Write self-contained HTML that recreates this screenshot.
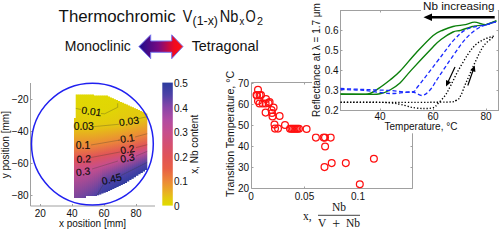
<!DOCTYPE html><html><head><meta charset="utf-8"><style>html,body{margin:0;padding:0;background:#fff;overflow:hidden}svg{display:block}text{font-family:"Liberation Sans",sans-serif}</style></head><body>
<svg width="500" height="229" viewBox="0 0 500 229">
<defs>
<linearGradient id="ag" x1="0" x2="1" y1="0" y2="0"><stop offset="0" stop-color="#1c0c8c"/><stop offset="0.45" stop-color="#7a0a80"/><stop offset="0.8" stop-color="#f00a20"/><stop offset="1" stop-color="#ff1010"/></linearGradient>
<linearGradient id="cb" x1="0" x2="0" y1="1" y2="0"><stop offset="0.000" stop-color="#e0dc00"/><stop offset="0.060" stop-color="#e4c810"/><stop offset="0.100" stop-color="#e8b420"/><stop offset="0.200" stop-color="#ec8838"/><stop offset="0.300" stop-color="#e86046"/><stop offset="0.400" stop-color="#e05458"/><stop offset="0.500" stop-color="#d45072"/><stop offset="0.600" stop-color="#c64e8e"/><stop offset="0.700" stop-color="#b04ca2"/><stop offset="0.800" stop-color="#8846a8"/><stop offset="0.900" stop-color="#4e42a6"/><stop offset="1.000" stop-color="#2b3b9e"/></linearGradient>
</defs>
<text x="58.6" y="21.8" font-size="16" textLength="117" lengthAdjust="spacingAndGlyphs" fill="#111">Thermochromic</text>
<text x="182.8" y="21.8" font-size="16" textLength="9.5" lengthAdjust="spacingAndGlyphs" fill="#111">V</text>
<text x="192.6" y="25.2" font-size="12" textLength="25.4" lengthAdjust="spacingAndGlyphs" fill="#111">(1-x)</text>
<text x="219.8" y="21.8" font-size="16" textLength="18.6" lengthAdjust="spacingAndGlyphs" fill="#111">Nb</text>
<text x="239.6" y="24.8" font-size="11" textLength="4.8" lengthAdjust="spacingAndGlyphs" fill="#111">x</text>
<text x="245.6" y="21.8" font-size="16" textLength="10.2" lengthAdjust="spacingAndGlyphs" fill="#111">O</text>
<text x="257" y="24.8" font-size="11" textLength="6" lengthAdjust="spacingAndGlyphs" fill="#111">2</text>
<text x="64.8" y="50.7" font-size="14" textLength="66" lengthAdjust="spacingAndGlyphs" fill="#111">Monoclinic</text>
<text x="191.7" y="50.7" font-size="14" textLength="67" lengthAdjust="spacingAndGlyphs" fill="#111">Tetragonal</text>
<path d="M138.9 46.6 L150.7 34.8 L150.7 41 L171.7 41 L171.7 34.8 L183 46.6 L171.7 58.7 L171.7 52.3 L150.7 52.3 L150.7 58.7 Z" fill="url(#ag)" stroke="#7878f0" stroke-width="1"/>
<path d="M30.5 83 V206 H155" fill="none" stroke="#a0a0a0" stroke-width="1"/>
<text x="28.7" y="103.3" font-size="10" text-anchor="end" fill="#111">−20</text>
<text x="28.7" y="135.29999999999998" font-size="10" text-anchor="end" fill="#111">−40</text>
<text x="28.7" y="167.29999999999998" font-size="10" text-anchor="end" fill="#111">−60</text>
<text x="28.7" y="199.29999999999998" font-size="10" text-anchor="end" fill="#111">−80</text>
<text x="40.2" y="217.2" font-size="10" text-anchor="middle" fill="#111">20</text>
<text x="72" y="217.2" font-size="10" text-anchor="middle" fill="#111">40</text>
<text x="104" y="217.2" font-size="10" text-anchor="middle" fill="#111">60</text>
<text x="136" y="217.2" font-size="10" text-anchor="middle" fill="#111">80</text>
<text x="92.5" y="226.5" font-size="10" text-anchor="middle" fill="#111">x position [mm]</text>
<text transform="translate(8.6,144.7) rotate(-90)" font-size="10" text-anchor="middle" fill="#111">y position [mm]</text>
<clipPath id="cr"><path d="M74.0 198.0 L74.0 118.0 L75.7 118.0 L75.7 94.4 L94.0 94.4 L94.0 95.6 L106.0 95.6 L108.0 95.6 L108.0 96.5 L110.0 96.5 L110.0 97.4 L112.0 97.4 L112.0 98.3 L114.0 98.3 L114.0 99.2 L116.0 99.2 L116.0 100.1 L118.0 100.1 L118.0 101.0 L120.0 101.0 L120.0 101.9 L122.0 101.9 L122.0 102.8 L124.0 102.8 L124.0 103.7 L126.0 103.7 L126.0 104.6 L128.0 104.6 L128.0 105.5 L130.0 105.5 L130.0 106.4 L132.0 106.4 L132.0 107.3 L134.0 107.3 L134.0 108.2 L136.0 108.2 L136.0 109.1 L138.0 109.1 L138.0 110.0 L140.0 110.0 L140.0 110.9 L142.0 110.9 L142.0 111.8 L144.0 111.8 L144.0 112.7 L146.0 112.7 L146.0 113.6 L147.3 113.6 L147.3 170.0 L145.0 170.0 L145.0 171.4 L142.8 171.4 L142.8 172.9 L140.5 172.9 L140.5 174.3 L138.3 174.3 L138.3 175.8 L136.0 175.8 L136.0 177.2 L133.8 177.2 L133.8 178.7 L131.5 178.7 L131.5 180.1 L129.3 180.1 L129.3 181.6 L127.0 181.6 L127.0 183.0 L124.9 183.0 L124.9 184.0 L122.8 184.0 L122.8 185.0 L120.7 185.0 L120.7 186.0 L118.6 186.0 L118.6 187.0 L116.4 187.0 L116.4 188.0 L114.3 188.0 L114.3 189.0 L112.2 189.0 L112.2 190.0 L110.1 190.0 L110.1 191.0 L108.0 191.0 L108.0 192.0 L105.8 192.0 L105.8 192.8 L103.6 192.8 L103.6 193.6 L101.4 193.6 L101.4 194.4 L99.2 194.4 L99.2 195.2 L97.0 195.2 L97.0 196.0 L86.0 196.0 L86.0 198.0 Z"/></clipPath>
<defs>
<linearGradient id="s0" gradientUnits="userSpaceOnUse" x1="0" y1="80.0" x2="0" y2="238.8"><stop offset="0.000" stop-color="#e0dc00"/><stop offset="0.177" stop-color="#e1d505"/><stop offset="0.296" stop-color="#e4c810"/><stop offset="0.415" stop-color="#ec8838"/><stop offset="0.500" stop-color="#e05458"/><stop offset="0.585" stop-color="#c64e8e"/><stop offset="0.864" stop-color="#4e42a6"/><stop offset="1.000" stop-color="#2b3b9e"/></linearGradient>
<linearGradient id="s1" gradientUnits="userSpaceOnUse" x1="0" y1="80.0" x2="0" y2="236.4"><stop offset="0.000" stop-color="#e0dc00"/><stop offset="0.182" stop-color="#e1d505"/><stop offset="0.300" stop-color="#e4c810"/><stop offset="0.421" stop-color="#ec8838"/><stop offset="0.506" stop-color="#e05458"/><stop offset="0.591" stop-color="#c64e8e"/><stop offset="0.866" stop-color="#4e42a6"/><stop offset="1.000" stop-color="#2b3b9e"/></linearGradient>
<linearGradient id="s2" gradientUnits="userSpaceOnUse" x1="0" y1="80.0" x2="0" y2="233.9"><stop offset="0.000" stop-color="#e0dc00"/><stop offset="0.187" stop-color="#e1d505"/><stop offset="0.305" stop-color="#e4c810"/><stop offset="0.427" stop-color="#ec8838"/><stop offset="0.513" stop-color="#e05458"/><stop offset="0.598" stop-color="#c64e8e"/><stop offset="0.869" stop-color="#4e42a6"/><stop offset="1.000" stop-color="#2b3b9e"/></linearGradient>
<linearGradient id="s3" gradientUnits="userSpaceOnUse" x1="0" y1="80.0" x2="0" y2="231.5"><stop offset="0.000" stop-color="#e0dc00"/><stop offset="0.192" stop-color="#e1d505"/><stop offset="0.310" stop-color="#e4c810"/><stop offset="0.434" stop-color="#ec8838"/><stop offset="0.520" stop-color="#e05458"/><stop offset="0.605" stop-color="#c64e8e"/><stop offset="0.871" stop-color="#4e42a6"/><stop offset="1.000" stop-color="#2b3b9e"/></linearGradient>
<linearGradient id="s4" gradientUnits="userSpaceOnUse" x1="0" y1="80.0" x2="0" y2="229.1"><stop offset="0.000" stop-color="#e0dc00"/><stop offset="0.197" stop-color="#e1d505"/><stop offset="0.315" stop-color="#e4c810"/><stop offset="0.440" stop-color="#ec8838"/><stop offset="0.526" stop-color="#e05458"/><stop offset="0.613" stop-color="#c64e8e"/><stop offset="0.874" stop-color="#4e42a6"/><stop offset="1.000" stop-color="#2b3b9e"/></linearGradient>
<linearGradient id="s5" gradientUnits="userSpaceOnUse" x1="0" y1="80.0" x2="0" y2="226.6"><stop offset="0.000" stop-color="#e0dc00"/><stop offset="0.202" stop-color="#e1d505"/><stop offset="0.320" stop-color="#e4c810"/><stop offset="0.447" stop-color="#ec8838"/><stop offset="0.534" stop-color="#e05458"/><stop offset="0.621" stop-color="#c64e8e"/><stop offset="0.877" stop-color="#4e42a6"/><stop offset="1.000" stop-color="#2b3b9e"/></linearGradient>
<linearGradient id="s6" gradientUnits="userSpaceOnUse" x1="0" y1="80.0" x2="0" y2="224.2"><stop offset="0.000" stop-color="#e0dc00"/><stop offset="0.208" stop-color="#e1d505"/><stop offset="0.325" stop-color="#e4c810"/><stop offset="0.454" stop-color="#ec8838"/><stop offset="0.541" stop-color="#e05458"/><stop offset="0.628" stop-color="#c64e8e"/><stop offset="0.880" stop-color="#4e42a6"/><stop offset="1.000" stop-color="#2b3b9e"/></linearGradient>
<linearGradient id="s7" gradientUnits="userSpaceOnUse" x1="0" y1="80.0" x2="0" y2="221.8"><stop offset="0.000" stop-color="#e0dc00"/><stop offset="0.213" stop-color="#e1d505"/><stop offset="0.330" stop-color="#e4c810"/><stop offset="0.461" stop-color="#ec8838"/><stop offset="0.549" stop-color="#e05458"/><stop offset="0.637" stop-color="#c64e8e"/><stop offset="0.883" stop-color="#4e42a6"/><stop offset="1.000" stop-color="#2b3b9e"/></linearGradient>
<linearGradient id="s8" gradientUnits="userSpaceOnUse" x1="0" y1="80.0" x2="0" y2="219.4"><stop offset="0.000" stop-color="#e0dc00"/><stop offset="0.219" stop-color="#e1d505"/><stop offset="0.336" stop-color="#e4c810"/><stop offset="0.469" stop-color="#ec8838"/><stop offset="0.557" stop-color="#e05458"/><stop offset="0.645" stop-color="#c64e8e"/><stop offset="0.886" stop-color="#4e42a6"/><stop offset="1.000" stop-color="#2b3b9e"/></linearGradient>
<linearGradient id="s9" gradientUnits="userSpaceOnUse" x1="0" y1="80.0" x2="0" y2="216.9"><stop offset="0.000" stop-color="#e0dc00"/><stop offset="0.225" stop-color="#e1d505"/><stop offset="0.342" stop-color="#e4c810"/><stop offset="0.476" stop-color="#ec8838"/><stop offset="0.565" stop-color="#e05458"/><stop offset="0.654" stop-color="#c64e8e"/><stop offset="0.889" stop-color="#4e42a6"/><stop offset="1.000" stop-color="#2b3b9e"/></linearGradient>
<linearGradient id="s10" gradientUnits="userSpaceOnUse" x1="0" y1="80.0" x2="0" y2="214.5"><stop offset="0.000" stop-color="#e0dc00"/><stop offset="0.232" stop-color="#e1d505"/><stop offset="0.348" stop-color="#e4c810"/><stop offset="0.484" stop-color="#ec8838"/><stop offset="0.573" stop-color="#e05458"/><stop offset="0.663" stop-color="#c64e8e"/><stop offset="0.892" stop-color="#4e42a6"/><stop offset="1.000" stop-color="#2b3b9e"/></linearGradient>
<linearGradient id="s11" gradientUnits="userSpaceOnUse" x1="0" y1="80.0" x2="0" y2="212.1"><stop offset="0.000" stop-color="#e0dc00"/><stop offset="0.239" stop-color="#e1d505"/><stop offset="0.354" stop-color="#e4c810"/><stop offset="0.493" stop-color="#ec8838"/><stop offset="0.582" stop-color="#e05458"/><stop offset="0.672" stop-color="#c64e8e"/><stop offset="0.896" stop-color="#4e42a6"/><stop offset="1.000" stop-color="#2b3b9e"/></linearGradient>
<linearGradient id="s12" gradientUnits="userSpaceOnUse" x1="0" y1="80.0" x2="0" y2="209.6"><stop offset="0.000" stop-color="#e0dc00"/><stop offset="0.246" stop-color="#e1d505"/><stop offset="0.360" stop-color="#e4c810"/><stop offset="0.501" stop-color="#ec8838"/><stop offset="0.590" stop-color="#e05458"/><stop offset="0.679" stop-color="#c64e8e"/><stop offset="0.899" stop-color="#4e42a6"/><stop offset="1.000" stop-color="#2b3b9e"/></linearGradient>
<linearGradient id="s13" gradientUnits="userSpaceOnUse" x1="0" y1="80.0" x2="0" y2="207.2"><stop offset="0.000" stop-color="#e0dc00"/><stop offset="0.254" stop-color="#e1d505"/><stop offset="0.365" stop-color="#e4c810"/><stop offset="0.508" stop-color="#ec8838"/><stop offset="0.598" stop-color="#e05458"/><stop offset="0.688" stop-color="#c64e8e"/><stop offset="0.903" stop-color="#4e42a6"/><stop offset="1.000" stop-color="#2b3b9e"/></linearGradient>
<linearGradient id="s14" gradientUnits="userSpaceOnUse" x1="0" y1="80.0" x2="0" y2="205.2"><stop offset="0.000" stop-color="#e0dc00"/><stop offset="0.261" stop-color="#e1d505"/><stop offset="0.369" stop-color="#e4c810"/><stop offset="0.513" stop-color="#ec8838"/><stop offset="0.605" stop-color="#e05458"/><stop offset="0.694" stop-color="#c64e8e"/><stop offset="0.895" stop-color="#4e42a6"/><stop offset="1.000" stop-color="#2b3b9e"/></linearGradient>
<linearGradient id="s15" gradientUnits="userSpaceOnUse" x1="0" y1="80.0" x2="0" y2="203.5"><stop offset="0.000" stop-color="#e0dc00"/><stop offset="0.268" stop-color="#e1d505"/><stop offset="0.373" stop-color="#e4c810"/><stop offset="0.516" stop-color="#ec8838"/><stop offset="0.610" stop-color="#e05458"/><stop offset="0.698" stop-color="#c64e8e"/><stop offset="0.874" stop-color="#4e42a6"/><stop offset="1.000" stop-color="#2b3b9e"/></linearGradient>
<linearGradient id="s16" gradientUnits="userSpaceOnUse" x1="0" y1="80.0" x2="0" y2="201.9"><stop offset="0.000" stop-color="#e0dc00"/><stop offset="0.275" stop-color="#e1d505"/><stop offset="0.376" stop-color="#e4c810"/><stop offset="0.520" stop-color="#ec8838"/><stop offset="0.616" stop-color="#e05458"/><stop offset="0.702" stop-color="#c64e8e"/><stop offset="0.853" stop-color="#4e42a6"/><stop offset="1.000" stop-color="#2b3b9e"/></linearGradient>
<linearGradient id="s17" gradientUnits="userSpaceOnUse" x1="0" y1="80.0" x2="0" y2="200.3"><stop offset="0.000" stop-color="#e0dc00"/><stop offset="0.280" stop-color="#e1d505"/><stop offset="0.379" stop-color="#e4c810"/><stop offset="0.524" stop-color="#ec8838"/><stop offset="0.621" stop-color="#e05458"/><stop offset="0.707" stop-color="#c64e8e"/><stop offset="0.857" stop-color="#4e42a6"/><stop offset="1.000" stop-color="#2b3b9e"/></linearGradient>
<linearGradient id="s18" gradientUnits="userSpaceOnUse" x1="0" y1="80.0" x2="0" y2="198.6"><stop offset="0.000" stop-color="#e0dc00"/><stop offset="0.275" stop-color="#e1d505"/><stop offset="0.383" stop-color="#e4c810"/><stop offset="0.528" stop-color="#ec8838"/><stop offset="0.626" stop-color="#e05458"/><stop offset="0.711" stop-color="#c64e8e"/><stop offset="0.861" stop-color="#4e42a6"/><stop offset="1.000" stop-color="#2b3b9e"/></linearGradient>
<linearGradient id="s19" gradientUnits="userSpaceOnUse" x1="0" y1="80.0" x2="0" y2="197.0"><stop offset="0.000" stop-color="#e0dc00"/><stop offset="0.271" stop-color="#e1d505"/><stop offset="0.387" stop-color="#e4c810"/><stop offset="0.532" stop-color="#ec8838"/><stop offset="0.632" stop-color="#e05458"/><stop offset="0.716" stop-color="#c64e8e"/><stop offset="0.865" stop-color="#4e42a6"/><stop offset="1.000" stop-color="#2b3b9e"/></linearGradient>
<linearGradient id="s20" gradientUnits="userSpaceOnUse" x1="0" y1="80.0" x2="0" y2="195.4"><stop offset="0.000" stop-color="#e0dc00"/><stop offset="0.266" stop-color="#e1d505"/><stop offset="0.390" stop-color="#e4c810"/><stop offset="0.536" stop-color="#ec8838"/><stop offset="0.638" stop-color="#e05458"/><stop offset="0.721" stop-color="#c64e8e"/><stop offset="0.869" stop-color="#4e42a6"/><stop offset="1.000" stop-color="#2b3b9e"/></linearGradient>
<linearGradient id="s21" gradientUnits="userSpaceOnUse" x1="0" y1="80.0" x2="0" y2="193.7"><stop offset="0.000" stop-color="#e0dc00"/><stop offset="0.261" stop-color="#e1d505"/><stop offset="0.394" stop-color="#e4c810"/><stop offset="0.540" stop-color="#ec8838"/><stop offset="0.644" stop-color="#e05458"/><stop offset="0.726" stop-color="#c64e8e"/><stop offset="0.873" stop-color="#4e42a6"/><stop offset="1.000" stop-color="#2b3b9e"/></linearGradient>
<linearGradient id="s22" gradientUnits="userSpaceOnUse" x1="0" y1="80.0" x2="0" y2="192.1"><stop offset="0.000" stop-color="#e0dc00"/><stop offset="0.256" stop-color="#e1d505"/><stop offset="0.398" stop-color="#e4c810"/><stop offset="0.544" stop-color="#ec8838"/><stop offset="0.650" stop-color="#e05458"/><stop offset="0.731" stop-color="#c64e8e"/><stop offset="0.877" stop-color="#4e42a6"/><stop offset="1.000" stop-color="#2b3b9e"/></linearGradient>
<linearGradient id="s23" gradientUnits="userSpaceOnUse" x1="0" y1="80.0" x2="0" y2="190.5"><stop offset="0.000" stop-color="#e0dc00"/><stop offset="0.250" stop-color="#e1d505"/><stop offset="0.402" stop-color="#e4c810"/><stop offset="0.549" stop-color="#ec8838"/><stop offset="0.657" stop-color="#e05458"/><stop offset="0.736" stop-color="#c64e8e"/><stop offset="0.882" stop-color="#4e42a6"/><stop offset="1.000" stop-color="#2b3b9e"/></linearGradient>
<linearGradient id="s24" gradientUnits="userSpaceOnUse" x1="0" y1="80.0" x2="0" y2="188.8"><stop offset="0.000" stop-color="#e0dc00"/><stop offset="0.213" stop-color="#e1d505"/><stop offset="0.406" stop-color="#e4c810"/><stop offset="0.553" stop-color="#ec8838"/><stop offset="0.663" stop-color="#e05458"/><stop offset="0.741" stop-color="#c64e8e"/><stop offset="0.887" stop-color="#4e42a6"/><stop offset="1.000" stop-color="#2b3b9e"/></linearGradient>
<linearGradient id="s25" gradientUnits="userSpaceOnUse" x1="0" y1="80.0" x2="0" y2="187.4"><stop offset="0.000" stop-color="#e0dc00"/><stop offset="0.182" stop-color="#e1d505"/><stop offset="0.404" stop-color="#e4c810"/><stop offset="0.556" stop-color="#ec8838"/><stop offset="0.668" stop-color="#e05458"/><stop offset="0.745" stop-color="#c64e8e"/><stop offset="0.889" stop-color="#4e42a6"/><stop offset="1.000" stop-color="#2b3b9e"/></linearGradient>
<linearGradient id="s26" gradientUnits="userSpaceOnUse" x1="0" y1="80.0" x2="0" y2="186.2"><stop offset="0.000" stop-color="#e0dc00"/><stop offset="0.177" stop-color="#e1d505"/><stop offset="0.402" stop-color="#e4c810"/><stop offset="0.558" stop-color="#ec8838"/><stop offset="0.670" stop-color="#e05458"/><stop offset="0.747" stop-color="#c64e8e"/><stop offset="0.890" stop-color="#4e42a6"/><stop offset="1.000" stop-color="#2b3b9e"/></linearGradient>
<linearGradient id="s27" gradientUnits="userSpaceOnUse" x1="0" y1="80.0" x2="0" y2="185.0"><stop offset="0.000" stop-color="#e0dc00"/><stop offset="0.171" stop-color="#e1d505"/><stop offset="0.400" stop-color="#e4c810"/><stop offset="0.560" stop-color="#ec8838"/><stop offset="0.673" stop-color="#e05458"/><stop offset="0.749" stop-color="#c64e8e"/><stop offset="0.891" stop-color="#4e42a6"/><stop offset="1.000" stop-color="#2b3b9e"/></linearGradient>
<linearGradient id="s28" gradientUnits="userSpaceOnUse" x1="0" y1="80.0" x2="0" y2="183.8"><stop offset="0.000" stop-color="#e0dc00"/><stop offset="0.166" stop-color="#e1d505"/><stop offset="0.398" stop-color="#e4c810"/><stop offset="0.562" stop-color="#ec8838"/><stop offset="0.676" stop-color="#e05458"/><stop offset="0.751" stop-color="#c64e8e"/><stop offset="0.892" stop-color="#4e42a6"/><stop offset="1.000" stop-color="#2b3b9e"/></linearGradient>
<linearGradient id="s29" gradientUnits="userSpaceOnUse" x1="0" y1="80.0" x2="0" y2="182.6"><stop offset="0.000" stop-color="#e0dc00"/><stop offset="0.160" stop-color="#e1d505"/><stop offset="0.398" stop-color="#e4c810"/><stop offset="0.564" stop-color="#ec8838"/><stop offset="0.678" stop-color="#e05458"/><stop offset="0.753" stop-color="#c64e8e"/><stop offset="0.893" stop-color="#4e42a6"/><stop offset="1.000" stop-color="#2b3b9e"/></linearGradient>
<linearGradient id="s30" gradientUnits="userSpaceOnUse" x1="0" y1="80.0" x2="0" y2="181.4"><stop offset="0.000" stop-color="#e0dc00"/><stop offset="0.154" stop-color="#e1d505"/><stop offset="0.398" stop-color="#e4c810"/><stop offset="0.566" stop-color="#ec8838"/><stop offset="0.681" stop-color="#e05458"/><stop offset="0.755" stop-color="#c64e8e"/><stop offset="0.894" stop-color="#4e42a6"/><stop offset="1.000" stop-color="#2b3b9e"/></linearGradient>
<linearGradient id="s31" gradientUnits="userSpaceOnUse" x1="0" y1="80.0" x2="0" y2="180.2"><stop offset="0.000" stop-color="#e0dc00"/><stop offset="0.148" stop-color="#e1d505"/><stop offset="0.399" stop-color="#e4c810"/><stop offset="0.569" stop-color="#ec8838"/><stop offset="0.684" stop-color="#e05458"/><stop offset="0.757" stop-color="#c64e8e"/><stop offset="0.895" stop-color="#4e42a6"/><stop offset="1.000" stop-color="#2b3b9e"/></linearGradient>
<linearGradient id="s32" gradientUnits="userSpaceOnUse" x1="0" y1="80.0" x2="0" y2="179.0"><stop offset="0.000" stop-color="#e0dc00"/><stop offset="0.141" stop-color="#e1d505"/><stop offset="0.400" stop-color="#e4c810"/><stop offset="0.571" stop-color="#ec8838"/><stop offset="0.687" stop-color="#e05458"/><stop offset="0.759" stop-color="#c64e8e"/><stop offset="0.896" stop-color="#4e42a6"/><stop offset="1.000" stop-color="#2b3b9e"/></linearGradient>
<linearGradient id="s33" gradientUnits="userSpaceOnUse" x1="0" y1="80.0" x2="0" y2="177.8"><stop offset="0.000" stop-color="#e0dc00"/><stop offset="0.135" stop-color="#e1d505"/><stop offset="0.400" stop-color="#e4c810"/><stop offset="0.573" stop-color="#ec8838"/><stop offset="0.690" stop-color="#e05458"/><stop offset="0.761" stop-color="#c64e8e"/><stop offset="0.898" stop-color="#4e42a6"/><stop offset="1.000" stop-color="#2b3b9e"/></linearGradient>
<linearGradient id="s34" gradientUnits="userSpaceOnUse" x1="0" y1="80.0" x2="0" y2="176.6"><stop offset="0.000" stop-color="#e0dc00"/><stop offset="0.128" stop-color="#e1d505"/><stop offset="0.401" stop-color="#e4c810"/><stop offset="0.575" stop-color="#ec8838"/><stop offset="0.693" stop-color="#e05458"/><stop offset="0.764" stop-color="#c64e8e"/><stop offset="0.899" stop-color="#4e42a6"/><stop offset="1.000" stop-color="#2b3b9e"/></linearGradient>
<linearGradient id="s35" gradientUnits="userSpaceOnUse" x1="0" y1="80.0" x2="0" y2="175.4"><stop offset="0.000" stop-color="#e0dc00"/><stop offset="0.122" stop-color="#e1d505"/><stop offset="0.402" stop-color="#e4c810"/><stop offset="0.578" stop-color="#ec8838"/><stop offset="0.696" stop-color="#e05458"/><stop offset="0.766" stop-color="#c64e8e"/><stop offset="0.900" stop-color="#4e42a6"/><stop offset="1.000" stop-color="#2b3b9e"/></linearGradient>
<linearGradient id="s36" gradientUnits="userSpaceOnUse" x1="0" y1="80.0" x2="0" y2="174.2"><stop offset="0.000" stop-color="#e0dc00"/><stop offset="0.115" stop-color="#e1d505"/><stop offset="0.403" stop-color="#e4c810"/><stop offset="0.580" stop-color="#ec8838"/><stop offset="0.699" stop-color="#e05458"/><stop offset="0.769" stop-color="#c64e8e"/><stop offset="0.901" stop-color="#4e42a6"/><stop offset="1.000" stop-color="#2b3b9e"/></linearGradient>
<linearGradient id="s37" gradientUnits="userSpaceOnUse" x1="0" y1="80.0" x2="0" y2="173.0"><stop offset="0.000" stop-color="#e0dc00"/><stop offset="0.108" stop-color="#e1d505"/><stop offset="0.403" stop-color="#e4c810"/><stop offset="0.582" stop-color="#ec8838"/><stop offset="0.703" stop-color="#e05458"/><stop offset="0.771" stop-color="#c64e8e"/><stop offset="0.902" stop-color="#4e42a6"/><stop offset="1.000" stop-color="#2b3b9e"/></linearGradient>
<linearGradient id="s38" gradientUnits="userSpaceOnUse" x1="0" y1="80.0" x2="0" y2="171.8"><stop offset="0.000" stop-color="#e0dc00"/><stop offset="0.100" stop-color="#e1d505"/><stop offset="0.404" stop-color="#e4c810"/><stop offset="0.585" stop-color="#ec8838"/><stop offset="0.706" stop-color="#e05458"/><stop offset="0.774" stop-color="#c64e8e"/><stop offset="0.904" stop-color="#4e42a6"/><stop offset="1.000" stop-color="#2b3b9e"/></linearGradient>
<linearGradient id="s39" gradientUnits="userSpaceOnUse" x1="0" y1="80.0" x2="0" y2="170.6"><stop offset="0.000" stop-color="#e0dc00"/><stop offset="0.093" stop-color="#e1d505"/><stop offset="0.405" stop-color="#e4c810"/><stop offset="0.588" stop-color="#ec8838"/><stop offset="0.709" stop-color="#e05458"/><stop offset="0.776" stop-color="#c64e8e"/><stop offset="0.905" stop-color="#4e42a6"/><stop offset="1.000" stop-color="#2b3b9e"/></linearGradient>
</defs><g clip-path="url(#cr)">
<rect x="70" y="90" width="2.3" height="112" fill="url(#s0)"/>
<rect x="72" y="90" width="2.3" height="112" fill="url(#s1)"/>
<rect x="74" y="90" width="2.3" height="112" fill="url(#s2)"/>
<rect x="76" y="90" width="2.3" height="112" fill="url(#s3)"/>
<rect x="78" y="90" width="2.3" height="112" fill="url(#s4)"/>
<rect x="80" y="90" width="2.3" height="112" fill="url(#s5)"/>
<rect x="82" y="90" width="2.3" height="112" fill="url(#s6)"/>
<rect x="84" y="90" width="2.3" height="112" fill="url(#s7)"/>
<rect x="86" y="90" width="2.3" height="112" fill="url(#s8)"/>
<rect x="88" y="90" width="2.3" height="112" fill="url(#s9)"/>
<rect x="90" y="90" width="2.3" height="112" fill="url(#s10)"/>
<rect x="92" y="90" width="2.3" height="112" fill="url(#s11)"/>
<rect x="94" y="90" width="2.3" height="112" fill="url(#s12)"/>
<rect x="96" y="90" width="2.3" height="112" fill="url(#s13)"/>
<rect x="98" y="90" width="2.3" height="112" fill="url(#s14)"/>
<rect x="100" y="90" width="2.3" height="112" fill="url(#s15)"/>
<rect x="102" y="90" width="2.3" height="112" fill="url(#s16)"/>
<rect x="104" y="90" width="2.3" height="112" fill="url(#s17)"/>
<rect x="106" y="90" width="2.3" height="112" fill="url(#s18)"/>
<rect x="108" y="90" width="2.3" height="112" fill="url(#s19)"/>
<rect x="110" y="90" width="2.3" height="112" fill="url(#s20)"/>
<rect x="112" y="90" width="2.3" height="112" fill="url(#s21)"/>
<rect x="114" y="90" width="2.3" height="112" fill="url(#s22)"/>
<rect x="116" y="90" width="2.3" height="112" fill="url(#s23)"/>
<rect x="118" y="90" width="2.3" height="112" fill="url(#s24)"/>
<rect x="120" y="90" width="2.3" height="112" fill="url(#s25)"/>
<rect x="122" y="90" width="2.3" height="112" fill="url(#s26)"/>
<rect x="124" y="90" width="2.3" height="112" fill="url(#s27)"/>
<rect x="126" y="90" width="2.3" height="112" fill="url(#s28)"/>
<rect x="128" y="90" width="2.3" height="112" fill="url(#s29)"/>
<rect x="130" y="90" width="2.3" height="112" fill="url(#s30)"/>
<rect x="132" y="90" width="2.3" height="112" fill="url(#s31)"/>
<rect x="134" y="90" width="2.3" height="112" fill="url(#s32)"/>
<rect x="136" y="90" width="2.3" height="112" fill="url(#s33)"/>
<rect x="138" y="90" width="2.3" height="112" fill="url(#s34)"/>
<rect x="140" y="90" width="2.3" height="112" fill="url(#s35)"/>
<rect x="142" y="90" width="2.3" height="112" fill="url(#s36)"/>
<rect x="144" y="90" width="2.3" height="112" fill="url(#s37)"/>
<rect x="146" y="90" width="2.3" height="112" fill="url(#s38)"/>
<rect x="148" y="90" width="2.3" height="112" fill="url(#s39)"/>
<path d="M75.0 108.2 L81.0 109.5" fill="none" stroke="#3a3a2a" stroke-opacity="0.5" stroke-width="0.6"/>
<path d="M101.0 113.5 L104.7 113.8 L117.7 107.3 L117.7 103.3" fill="none" stroke="#3a3a2a" stroke-opacity="0.5" stroke-width="0.6"/>
<path d="M93.0 126.7 L118.5 124.3 L119.0 124.2" fill="none" stroke="#3a3a2a" stroke-opacity="0.5" stroke-width="0.6"/>
<path d="M137.0 119.0 L148.0 116.5" fill="none" stroke="#3a3a2a" stroke-opacity="0.5" stroke-width="0.6"/>
<path d="M91.0 145.0 L120.0 140.0 L118.0 140.3" fill="none" stroke="#3a3a2a" stroke-opacity="0.5" stroke-width="0.6"/>
<path d="M135.0 137.0 L148.0 133.5" fill="none" stroke="#3a3a2a" stroke-opacity="0.5" stroke-width="0.6"/>
<path d="M91.0 157.5 L120.0 152.0" fill="none" stroke="#3a3a2a" stroke-opacity="0.5" stroke-width="0.6"/>
<path d="M136.0 147.6 L148.0 144.5" fill="none" stroke="#3a3a2a" stroke-opacity="0.5" stroke-width="0.6"/>
<path d="M92.0 169.0 L118.0 161.0" fill="none" stroke="#3a3a2a" stroke-opacity="0.5" stroke-width="0.6"/>
<path d="M136.0 156.0 L148.0 151.0" fill="none" stroke="#3a3a2a" stroke-opacity="0.5" stroke-width="0.6"/>
<path d="M97.0 195.0 L103.0 185.0" fill="none" stroke="#3a3a2a" stroke-opacity="0.5" stroke-width="0.6"/>
<path d="M121.0 175.5 L148.0 162.0" fill="none" stroke="#3a3a2a" stroke-opacity="0.5" stroke-width="0.6"/>
</g>
<text transform="translate(91,115.0) rotate(8)" font-size="10.3" text-anchor="middle" stroke="#000" stroke-width="0.15" fill="#111">0.01</text>
<text transform="translate(83.7,130.3) rotate(0)" font-size="10.3" text-anchor="middle" stroke="#000" stroke-width="0.15" fill="#111">0.03</text>
<text transform="translate(129.5,124.89999999999999) rotate(-8)" font-size="10.3" text-anchor="middle" stroke="#000" stroke-width="0.15" fill="#111">0.03</text>
<text transform="translate(83,148.6) rotate(0)" font-size="10.3" text-anchor="middle" stroke="#000" stroke-width="0.15" fill="#111">0.1</text>
<text transform="translate(127.8,141.9) rotate(-8)" font-size="10.3" text-anchor="middle" stroke="#000" stroke-width="0.15" fill="#111">0.1</text>
<text transform="translate(84,162.6) rotate(-3)" font-size="10.3" text-anchor="middle" stroke="#000" stroke-width="0.15" fill="#111">0.2</text>
<text transform="translate(128,153.1) rotate(-10)" font-size="10.3" text-anchor="middle" stroke="#000" stroke-width="0.15" fill="#111">0.2</text>
<text transform="translate(128,161.6) rotate(-10)" font-size="10.3" text-anchor="middle" stroke="#000" stroke-width="0.15" fill="#111">0.3</text>
<text transform="translate(83.7,175.2) rotate(-8)" font-size="10.3" text-anchor="middle" stroke="#000" stroke-width="0.15" fill="#111">0.3</text>
<text transform="translate(112.5,182.6) rotate(-14)" font-size="10.3" text-anchor="middle" stroke="#000" stroke-width="0.15" fill="#111">0.45</text>
<path d="M30.5 99.5 h2 M30.5 131.5 h2 M30.5 163.5 h2 M30.5 195.5 h2 M40.5 206 v-2 M72.5 206 v-2 M104.5 206 v-2 M136.5 206 v-2 " stroke="#a0a0a0" stroke-width="1" fill="none"/>
<circle cx="92.4" cy="144.1" r="60.9" fill="none" stroke="#2020f0" stroke-width="1.5"/>
<rect x="162.3" y="82.6" width="10.5" height="123" fill="url(#cb)"/>
<text x="173.9" y="86.6" font-size="10" fill="#111">0.5</text>
<text x="173.9" y="111.6" font-size="10" fill="#111">0.4</text>
<text x="173.9" y="136.2" font-size="10" fill="#111">0.3</text>
<text x="173.9" y="160.6" font-size="10" fill="#111">0.2</text>
<text x="173.9" y="185.2" font-size="10" fill="#111">0.1</text>
<text x="173.9" y="209.9" font-size="10" fill="#111">0</text>
<text transform="translate(198,144.3) rotate(-90)" font-size="10" text-anchor="middle" fill="#111">x, Nb content</text>
<path d="M251.5 83.5 h2 M412.5 83.5 h-2 M251.5 104.5 h2 M412.5 104.5 h-2 M251.5 125.5 h2 M412.5 125.5 h-2 M251.5 146.5 h2 M412.5 146.5 h-2 M251.5 167.5 h2 M412.5 167.5 h-2 M251.5 188.5 h2 M412.5 188.5 h-2 M304.5 188.5 v-2 M304.5 82.5 v2 M358.5 188.5 v-2 M358.5 82.5 v2 " stroke="#a0a0a0" stroke-width="1" fill="none"/>
<path d="M251.5 82.5 V188.5 H412.5 V82.5 M251.5 82.5 H412.5" fill="none" stroke="#a0a0a0" stroke-width="1"/>
<text x="249" y="87.1" font-size="10" text-anchor="end" fill="#111">70</text>
<text x="249" y="108.06" font-size="10" text-anchor="end" fill="#111">60</text>
<text x="249" y="129.02" font-size="10" text-anchor="end" fill="#111">50</text>
<text x="249" y="149.98" font-size="10" text-anchor="end" fill="#111">40</text>
<text x="249" y="170.94" font-size="10" text-anchor="end" fill="#111">30</text>
<text x="249" y="191.9" font-size="10" text-anchor="end" fill="#111">20</text>
<text x="251" y="200.3" font-size="10" text-anchor="middle" fill="#111">0</text>
<text x="304.5" y="200.3" font-size="10" text-anchor="middle" fill="#111">0.05</text>
<text x="358" y="200.3" font-size="10" text-anchor="middle" fill="#111">0.1</text>
<text transform="translate(233.5,134) rotate(-90)" font-size="10.6" text-anchor="middle" fill="#111">Transition Temperature, °C</text>
<text x="303" y="219.5" font-size="11.5" style="font-family:&quot;Liberation Serif&quot;,serif" fill="#111">x,</text>
<text x="339" y="211.3" font-size="11.5" text-anchor="middle" style="font-family:&quot;Liberation Serif&quot;,serif" fill="#111">Nb</text>
<path d="M318 215.3 H360" stroke="#111" stroke-width="0.8"/>
<text x="318" y="227.3" font-size="11.5" style="font-family:&quot;Liberation Serif&quot;,serif" fill="#111">V</text><text x="336.3" y="227.8" font-size="14" text-anchor="middle" style="font-family:&quot;Liberation Serif&quot;,serif" fill="#111">+</text><text x="360" y="227.3" font-size="11.5" text-anchor="end" style="font-family:&quot;Liberation Serif&quot;,serif" fill="#111">Nb</text>
<circle cx="258" cy="89.8" r="3.4" fill="none" stroke="#ff1010" stroke-width="1.25"/>
<circle cx="257" cy="95.5" r="3.4" fill="none" stroke="#ff1010" stroke-width="1.25"/>
<circle cx="261" cy="95" r="3.4" fill="none" stroke="#ff1010" stroke-width="1.25"/>
<circle cx="256.5" cy="95" r="3.4" fill="none" stroke="#ff1010" stroke-width="1.25"/>
<circle cx="259.6" cy="95" r="3.4" fill="none" stroke="#ff1010" stroke-width="1.25"/>
<circle cx="266" cy="99" r="3.4" fill="none" stroke="#ff1010" stroke-width="1.25"/>
<circle cx="258" cy="101" r="3.4" fill="none" stroke="#ff1010" stroke-width="1.25"/>
<circle cx="269.6" cy="102" r="3.4" fill="none" stroke="#ff1010" stroke-width="1.25"/>
<circle cx="259.5" cy="103.5" r="3.4" fill="none" stroke="#ff1010" stroke-width="1.25"/>
<circle cx="262.6" cy="103.5" r="3.4" fill="none" stroke="#ff1010" stroke-width="1.25"/>
<circle cx="265.6" cy="103.5" r="3.4" fill="none" stroke="#ff1010" stroke-width="1.25"/>
<circle cx="268.6" cy="103" r="3.4" fill="none" stroke="#ff1010" stroke-width="1.25"/>
<circle cx="273.6" cy="107.5" r="3.4" fill="none" stroke="#ff1010" stroke-width="1.25"/>
<circle cx="271.6" cy="110" r="3.4" fill="none" stroke="#ff1010" stroke-width="1.25"/>
<circle cx="265.6" cy="112.6" r="3.4" fill="none" stroke="#ff1010" stroke-width="1.25"/>
<circle cx="272" cy="113" r="3.4" fill="none" stroke="#ff1010" stroke-width="1.25"/>
<circle cx="279.6" cy="116" r="3.4" fill="none" stroke="#ff1010" stroke-width="1.25"/>
<circle cx="272.5" cy="116.5" r="3.4" fill="none" stroke="#ff1010" stroke-width="1.25"/>
<circle cx="274.5" cy="124.6" r="3.4" fill="none" stroke="#ff1010" stroke-width="1.25"/>
<circle cx="285" cy="124.9" r="3.4" fill="none" stroke="#ff1010" stroke-width="1.25"/>
<circle cx="275" cy="128.6" r="3.4" fill="none" stroke="#ff1010" stroke-width="1.25"/>
<circle cx="278" cy="128.6" r="3.4" fill="none" stroke="#ff1010" stroke-width="1.25"/>
<circle cx="290" cy="128.8" r="3.4" fill="none" stroke="#ff1010" stroke-width="1.25"/>
<circle cx="291.5" cy="128.8" r="3.4" fill="none" stroke="#ff1010" stroke-width="1.25"/>
<circle cx="293" cy="128.8" r="3.4" fill="none" stroke="#ff1010" stroke-width="1.25"/>
<circle cx="294.5" cy="128.8" r="3.4" fill="none" stroke="#ff1010" stroke-width="1.25"/>
<circle cx="296" cy="128.8" r="3.4" fill="none" stroke="#ff1010" stroke-width="1.25"/>
<circle cx="297.5" cy="128.8" r="3.4" fill="none" stroke="#ff1010" stroke-width="1.25"/>
<circle cx="299" cy="128.8" r="3.4" fill="none" stroke="#ff1010" stroke-width="1.25"/>
<circle cx="306.6" cy="129" r="3.4" fill="none" stroke="#ff1010" stroke-width="1.25"/>
<circle cx="315.9" cy="137.6" r="3.4" fill="none" stroke="#ff1010" stroke-width="1.25"/>
<circle cx="323.6" cy="137.6" r="3.4" fill="none" stroke="#ff1010" stroke-width="1.25"/>
<circle cx="325" cy="137.6" r="3.4" fill="none" stroke="#ff1010" stroke-width="1.25"/>
<circle cx="330.7" cy="137.6" r="3.4" fill="none" stroke="#ff1010" stroke-width="1.25"/>
<circle cx="325.1" cy="146.4" r="3.4" fill="none" stroke="#ff1010" stroke-width="1.25"/>
<circle cx="331.7" cy="163.1" r="3.4" fill="none" stroke="#ff1010" stroke-width="1.25"/>
<circle cx="324.5" cy="167.1" r="3.4" fill="none" stroke="#ff1010" stroke-width="1.25"/>
<circle cx="345.8" cy="163.1" r="3.4" fill="none" stroke="#ff1010" stroke-width="1.25"/>
<circle cx="373.9" cy="158.7" r="3.4" fill="none" stroke="#ff1010" stroke-width="1.25"/>
<circle cx="359.8" cy="184.2" r="3.4" fill="none" stroke="#ff1010" stroke-width="1.25"/>
<rect x="312" y="0" width="188" height="133.3" fill="#fff"/>
<rect x="340.5" y="10.5" width="158" height="100" fill="#fff" stroke="#a0a0a0" stroke-width="1"/>
<text x="338.7" y="113.8" font-size="10" text-anchor="end" fill="#111">0.2</text>
<text x="338.7" y="93.8" font-size="10" text-anchor="end" fill="#111">0.3</text>
<text x="338.7" y="74.0" font-size="10" text-anchor="end" fill="#111">0.4</text>
<text x="338.7" y="53.800000000000004" font-size="10" text-anchor="end" fill="#111">0.5</text>
<text x="338.7" y="34.1" font-size="10" text-anchor="end" fill="#111">0.6</text>
<text x="380" y="120.4" font-size="10" text-anchor="middle" fill="#111">40</text>
<text x="433" y="120.4" font-size="10" text-anchor="middle" fill="#111">60</text>
<text x="486" y="120.4" font-size="10" text-anchor="middle" fill="#111">80</text>
<text x="421" y="130.4" font-size="10" text-anchor="middle" fill="#111">Temperature, °C</text>
<text transform="translate(319.6,60) rotate(-90)" font-size="10" text-anchor="middle" fill="#111">Reflectance at λ = 1.7 μm</text>
<path d="M340.5 30.5 h2 M498.5 30.5 h-2 M340.5 50.5 h2 M498.5 50.5 h-2 M340.5 70.5 h2 M498.5 70.5 h-2 M340.5 90.5 h2 M498.5 90.5 h-2 M380.5 110.5 v-2 M380.5 10.5 v2 M433.5 110.5 v-2 M486.5 110.5 v-2 " stroke="#a0a0a0" stroke-width="1" fill="none"/>
<path d="M340.6 93.9 C344.2 94.0 357.1 94.3 362.0 94.2 C366.9 94.1 367.0 94.6 370.0 93.5 C373.0 92.4 376.7 89.8 380.0 87.5 C383.3 85.2 386.6 82.7 390.0 80.0 C393.4 77.3 395.9 75.6 400.2 71.1 C404.5 66.6 410.5 58.9 416.0 53.0 C421.5 47.1 428.7 39.3 433.2 35.5 C437.7 31.7 439.9 31.5 443.2 30.0 C446.5 28.5 449.3 27.4 453.0 26.5 C456.7 25.6 461.9 25.3 465.5 24.6 C469.1 23.9 471.2 22.1 474.6 22.1 C478.0 22.1 482.4 24.8 486.0 24.6 C489.6 24.4 494.7 21.4 496.4 20.8" fill="none" stroke="#0c800c" stroke-width="1.4"/>
<path d="M340.6 94.2 C345.8 94.2 365.3 94.5 372.0 94.4 C378.7 94.3 378.0 94.2 381.0 93.5 C384.0 92.8 386.8 91.8 390.0 90.0 C393.2 88.2 396.4 86.3 400.0 83.0 C403.6 79.7 405.8 76.1 411.3 70.1 C416.8 64.1 428.1 52.1 433.0 47.0 C437.9 41.9 437.7 42.0 441.0 39.5 C444.3 37.0 449.7 33.5 453.0 32.0 C456.3 30.5 457.2 31.3 460.6 30.3 C464.1 29.3 469.5 27.1 473.7 26.2 C477.9 25.2 482.2 25.5 486.0 24.6 C489.8 23.7 494.7 21.4 496.4 20.8" fill="none" stroke="#0c800c" stroke-width="1.4"/>
<path d="M340.6 88.5 C344.7 88.7 356.8 89.2 365.0 89.5 C373.2 89.8 382.2 90.1 390.0 90.5 C397.8 90.9 407.3 92.8 412.0 92.0 C416.7 91.2 413.3 92.1 418.3 86.0 C423.3 79.9 435.8 63.3 441.8 55.5 C447.8 47.7 450.2 43.8 454.4 39.4 C458.6 35.0 461.8 31.5 467.2 29.0 C472.6 26.5 482.1 25.9 486.9 24.6 C491.7 23.4 494.5 22.0 496.0 21.5" fill="none" stroke="#1a2aff" stroke-width="1.3" stroke-dasharray="4 2.5"/>
<path d="M340.6 89.5 C344.7 89.7 356.8 89.8 365.0 90.5 C373.2 91.2 382.2 93.2 390.0 93.5 C397.8 93.8 406.3 91.7 411.6 92.0 C416.9 92.3 418.9 95.8 422.0 95.5 C425.1 95.2 427.3 92.9 430.0 90.0 C432.7 87.1 434.1 83.8 438.0 78.0 C441.9 72.2 448.9 61.6 453.6 55.0 C458.3 48.4 461.8 42.8 466.2 38.1 C470.6 33.4 475.3 29.7 480.3 27.0 C485.3 24.3 493.4 22.8 496.0 22.0" fill="none" stroke="#1a2aff" stroke-width="1.3" stroke-dasharray="4 2.5"/>
<path d="M340.6 102.2 C348.8 102.3 377.6 101.8 390.0 102.8 C402.4 103.8 408.0 107.0 415.0 107.9 C422.0 108.8 428.2 108.7 432.0 108.0 C435.8 107.3 435.8 105.7 438.0 103.5 C440.2 101.3 443.3 98.1 445.5 95.0 C447.7 91.9 448.9 89.0 451.0 85.0 C453.1 81.0 455.2 76.0 458.0 71.0 C460.8 66.0 464.6 59.4 467.5 55.0 C470.4 50.6 472.7 47.5 475.6 44.8 C478.5 42.1 481.7 40.5 485.0 39.0 C488.3 37.5 493.5 36.2 495.2 35.6" fill="none" stroke="#000" stroke-width="1.35" stroke-dasharray="1.3 1.9"/>
<path d="M340.6 102.4 C357.2 102.4 420.8 102.5 440.0 102.2 C459.2 101.9 452.5 101.7 456.0 100.5 C459.5 99.3 459.5 97.6 461.0 95.0 C462.5 92.4 463.7 88.2 465.0 85.0 C466.3 81.8 466.8 81.0 469.0 76.0 C471.2 71.0 475.9 60.3 478.5 55.0 C481.1 49.7 482.3 47.4 484.8 44.4 C487.3 41.4 492.1 38.1 493.6 36.8" fill="none" stroke="#000" stroke-width="1.35" stroke-dasharray="1.3 1.9"/>
<path d="M455 67 L448 82" stroke="#000" stroke-width="1.2"/><path d="M446 86.5 L451 82.2 L446 79.9 Z" fill="#000"/>
<path d="M467.8 85.5 L473 70.5" stroke="#000" stroke-width="1.2"/><path d="M474.8 65.5 L475.4 72.1 L470.2 70.3 Z" fill="#000"/>
<rect x="421" y="0" width="76.8" height="11.5" fill="#fff"/>
<text x="423" y="9.6" font-size="10.5" textLength="71.4" lengthAdjust="spacingAndGlyphs" fill="#111">Nb increasing</text>
<path d="M494.7 17.3 L430 17.3" stroke="#000" stroke-width="2.5"/><path d="M423.5 17.3 L432 13.6 L432 21 Z" fill="#000"/>
</svg></body></html>
